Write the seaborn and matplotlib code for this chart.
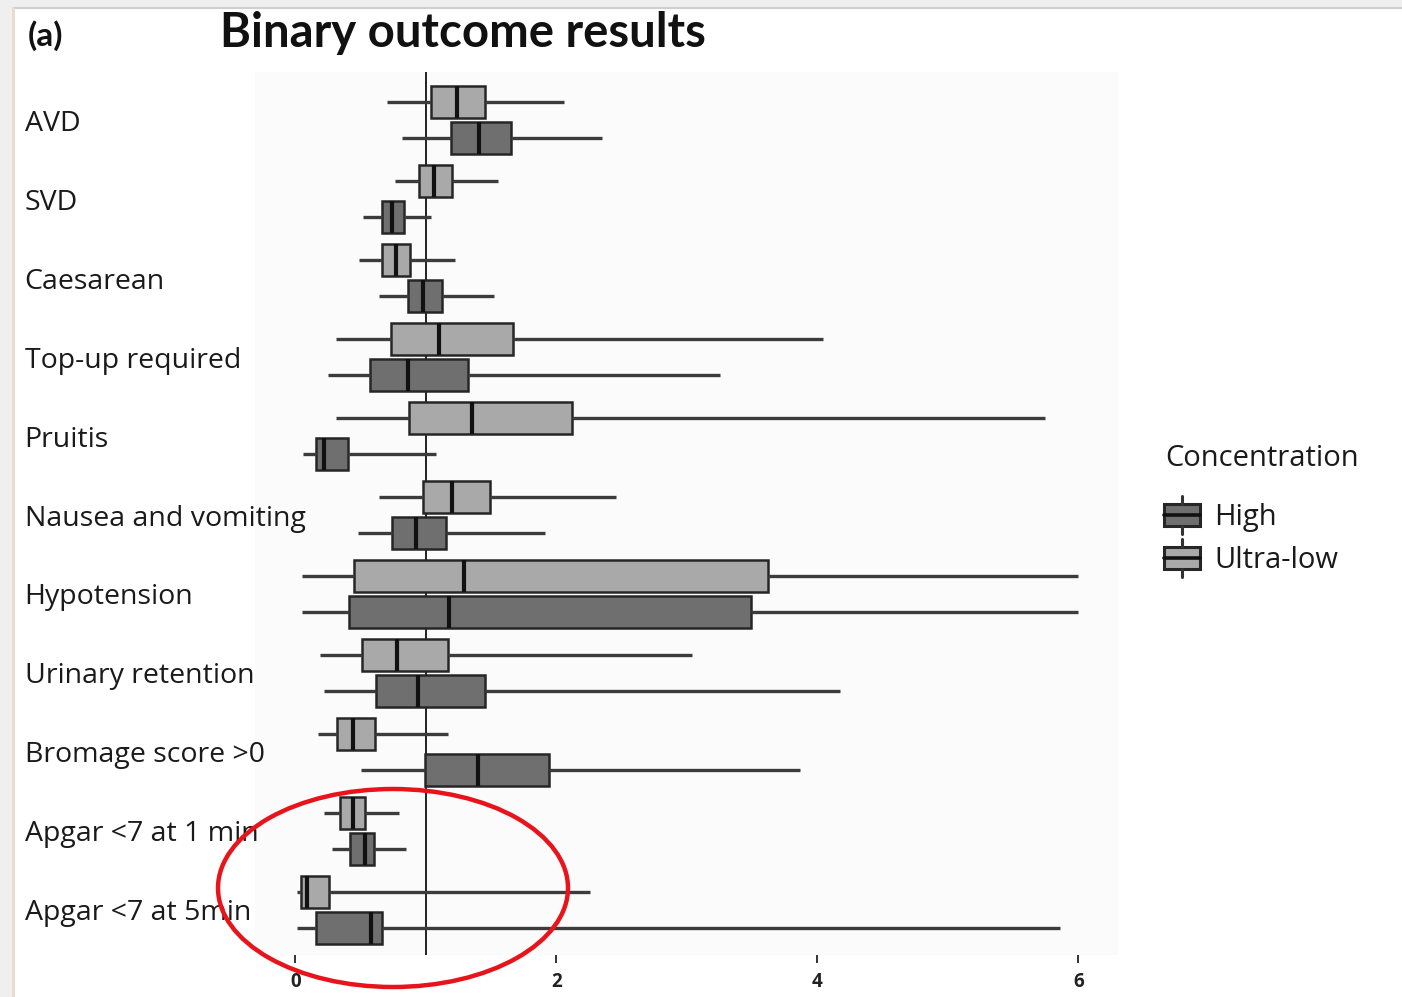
import numpy as np
import pandas as pd
import matplotlib
matplotlib.use("Agg")
import matplotlib.pyplot as plt
from matplotlib.patches import Rectangle, Ellipse
from matplotlib.lines import Line2D
from matplotlib.legend_handler import HandlerBase
import seaborn as sns

# Outcomes (top to bottom)
outcomes = ["AVD", "SVD", "Caesarean", "Top-up required", "Pruitis",
            "Nausea and vomiting", "Hypotension", "Urinary retention",
            "Bromage score >0", "Apgar <7 at 1 min", "Apgar <7 at 5min"]

# Ultra-low concentration: lower limit, lower quartile, median, upper quartile, upper limit
ultra_low_lo  = [0.70, 0.76, 0.49, 0.31, 0.31, 0.64, 0.05, 0.19, 0.17, 0.22, 0.01]
ultra_low_q1  = [1.04, 0.95, 0.66, 0.73, 0.87, 0.98, 0.45, 0.51, 0.32, 0.34, 0.04]
ultra_low_med = [1.24, 1.06, 0.77, 1.10, 1.35, 1.20, 1.29, 0.78, 0.44, 0.44, 0.09]
ultra_low_q3  = [1.45, 1.20, 0.88, 1.67, 2.12, 1.49, 3.62, 1.17, 0.61, 0.53, 0.26]
ultra_low_hi  = [2.06, 1.55, 1.22, 4.04, 5.74, 2.46, 6.00, 3.04, 1.17, 0.79, 2.26]

# High concentration
high_lo  = [0.82, 0.52, 0.64, 0.25, 0.06, 0.48, 0.05, 0.22, 0.50, 0.28, 0.01]
high_q1  = [1.19, 0.66, 0.86, 0.57, 0.16, 0.74, 0.41, 0.62, 0.99, 0.42, 0.16]
high_med = [1.41, 0.74, 0.98, 0.86, 0.22, 0.92, 1.18, 0.94, 1.40, 0.53, 0.58]
high_q3  = [1.65, 0.83, 1.12, 1.32, 0.40, 1.15, 3.49, 1.45, 1.94, 0.60, 0.66]
high_hi  = [2.35, 1.04, 1.52, 3.25, 1.08, 1.91, 6.00, 4.17, 3.87, 0.85, 5.86]

concentrations = ["Ultra-low", "High"]
legend_order = ["High", "Ultra-low"]
xticks = [0, 2, 4, 6]

colors = {"High": "#6f6f6f", "Ultra-low": "#a9a9a9"}

# Five points per group reproduce the limits and quartiles exactly
rows = []
for name, cols in [("Ultra-low", (ultra_low_lo, ultra_low_q1, ultra_low_med, ultra_low_q3, ultra_low_hi)),
                   ("High", (high_lo, high_q1, high_med, high_q3, high_hi))]:
    for i, outcome in enumerate(outcomes):
        for col in cols:
            rows.append({"outcome": outcome, "Concentration": name, "value": col[i]})
df = pd.DataFrame(rows)

sns.set_theme(style="white")
plt.rcParams["font.family"] = ["Open Sans", "DejaVu Sans"]

W, H = 1402, 997
fig = plt.figure(figsize=(W / 100, H / 100), dpi=100)
fig.patch.set_facecolor("white")

ax_left, ax_right, ax_top, ax_bottom = 255, 1118, 72, 955
ax = fig.add_axes([ax_left / W, 1 - ax_bottom / H, (ax_right - ax_left) / W, (ax_bottom - ax_top) / H])
ax.set_facecolor("#fbfbfb")

sns.boxplot(data=df, x="value", y="outcome", hue="Concentration",
            order=outcomes, hue_order=concentrations, palette=colors,
            whis=(0, 100), width=0.91, gap=0.1, showcaps=False,
            linewidth=1.8, linecolor="#262626", legend=False, ax=ax,
            whiskerprops=dict(color="#3c3c3c", linewidth=2.4),
            medianprops=dict(color="#111111", linewidth=3.0),
            boxprops=dict(edgecolor="#262626", linewidth=1.8))

ax.axvline(1, color="#111111", linewidth=1.3, zorder=0.5)

ax.set_xlim(-0.31, 6.303)
ax.set_ylim(10.57, -0.608)
ax.set_xlabel("")
ax.set_ylabel("")
for s in ax.spines.values():
    s.set_visible(False)

ax.set_xticks(xticks)
ax.set_xticklabels([str(t) for t in xticks])
ax.tick_params(axis="x", bottom=True, length=6, width=1.4, color="#333333",
               labelsize=13.5, pad=6, labelcolor="#222222")
for lab in ax.get_xticklabels():
    lab.set_fontweight("bold")

ax.tick_params(axis="y", left=False, labelsize=20.5, labelcolor="#1a1a1a",
               pad=(ax_left - 33) * 0.72)
for lab in ax.get_yticklabels():
    lab.set_horizontalalignment("left")

# Legend with small box glyphs
class BoxGlyph(HandlerBase):
    def create_artists(self, legend, orig_handle, xdescent, ydescent,
                       width, height, fontsize, trans):
        fc = orig_handle.get_facecolor()
        bw = width * 0.95
        bh = height * 0.85
        x0 = -xdescent + (width - bw) / 2
        y0 = -ydescent + (height - bh) / 2
        cx = x0 + bw / 2
        stub = height * 0.3
        box = Rectangle((x0, y0), bw, bh, facecolor=fc, edgecolor="#262626",
                        linewidth=2.2, transform=trans)
        med = Line2D([x0, x0 + bw], [y0 + bh / 2] * 2, color="#111111",
                     linewidth=2.6, transform=trans)
        w1 = Line2D([cx, cx], [y0 + bh, y0 + bh + stub], color="#333333",
                    linewidth=2.2, transform=trans)
        w2 = Line2D([cx, cx], [y0 - stub, y0], color="#333333",
                    linewidth=2.2, transform=trans)
        return [box, med, w1, w2]

fig.text(1165 / W, 1 - 458 / H, "Concentration", ha="left", va="center",
         fontsize=21, color="#1a1a1a")

handles = [Rectangle((0, 0), 1, 1, facecolor=colors[k]) for k in legend_order]
leg = fig.legend(handles, legend_order,
                 handler_map={Rectangle: BoxGlyph()},
                 loc="upper left", bbox_to_anchor=(1163 / W, 1 - 502 / H),
                 frameon=False, fontsize=21, borderpad=0,
                 handlelength=1.3, handleheight=1.0, handletextpad=0.45,
                 labelspacing=0.45, borderaxespad=0)
for t in leg.get_texts():
    t.set_color("#1a1a1a")

# Titles
fig.text(463 / W, 1 - 33 / H, "Binary outcome results", ha="center", va="center",
         fontsize=34, fontweight="bold", family=["Lato", "DejaVu Sans"], color="#111111")
fig.text(28 / W, 1 - 36 / H, "(a)", ha="left", va="center",
         fontsize=24, fontweight="bold", family=["Lato", "DejaVu Sans"], color="#111111")

# Page frame
fig.patches.append(Rectangle((0, 1 - 7 / H), 1, 7 / H, transform=fig.transFigure,
                             facecolor="#efefef", edgecolor="none", zorder=-1))
fig.lines.append(Line2D([13 / W, 1], [1 - 8 / H] * 2, transform=fig.transFigure,
                        color="#cfcfcf", linewidth=1.5))
fig.patches.append(Rectangle((0, 0), 12 / W, 1, transform=fig.transFigure,
                             facecolor="#efefef", edgecolor="none", zorder=-1))
fig.lines.append(Line2D([13 / W] * 2, [0, 1 - 8 / H], transform=fig.transFigure,
                        color="#e6dccd", linewidth=2))

# Highlight around the Apgar outcomes
fig.patches.append(Ellipse((393 / W, 1 - 888 / H), 350 / W, 198 / H,
                           transform=fig.transFigure, facecolor="none",
                           edgecolor="#e8141b", linewidth=3.2, zorder=10))

fig.savefig("out.png", dpi=100)
